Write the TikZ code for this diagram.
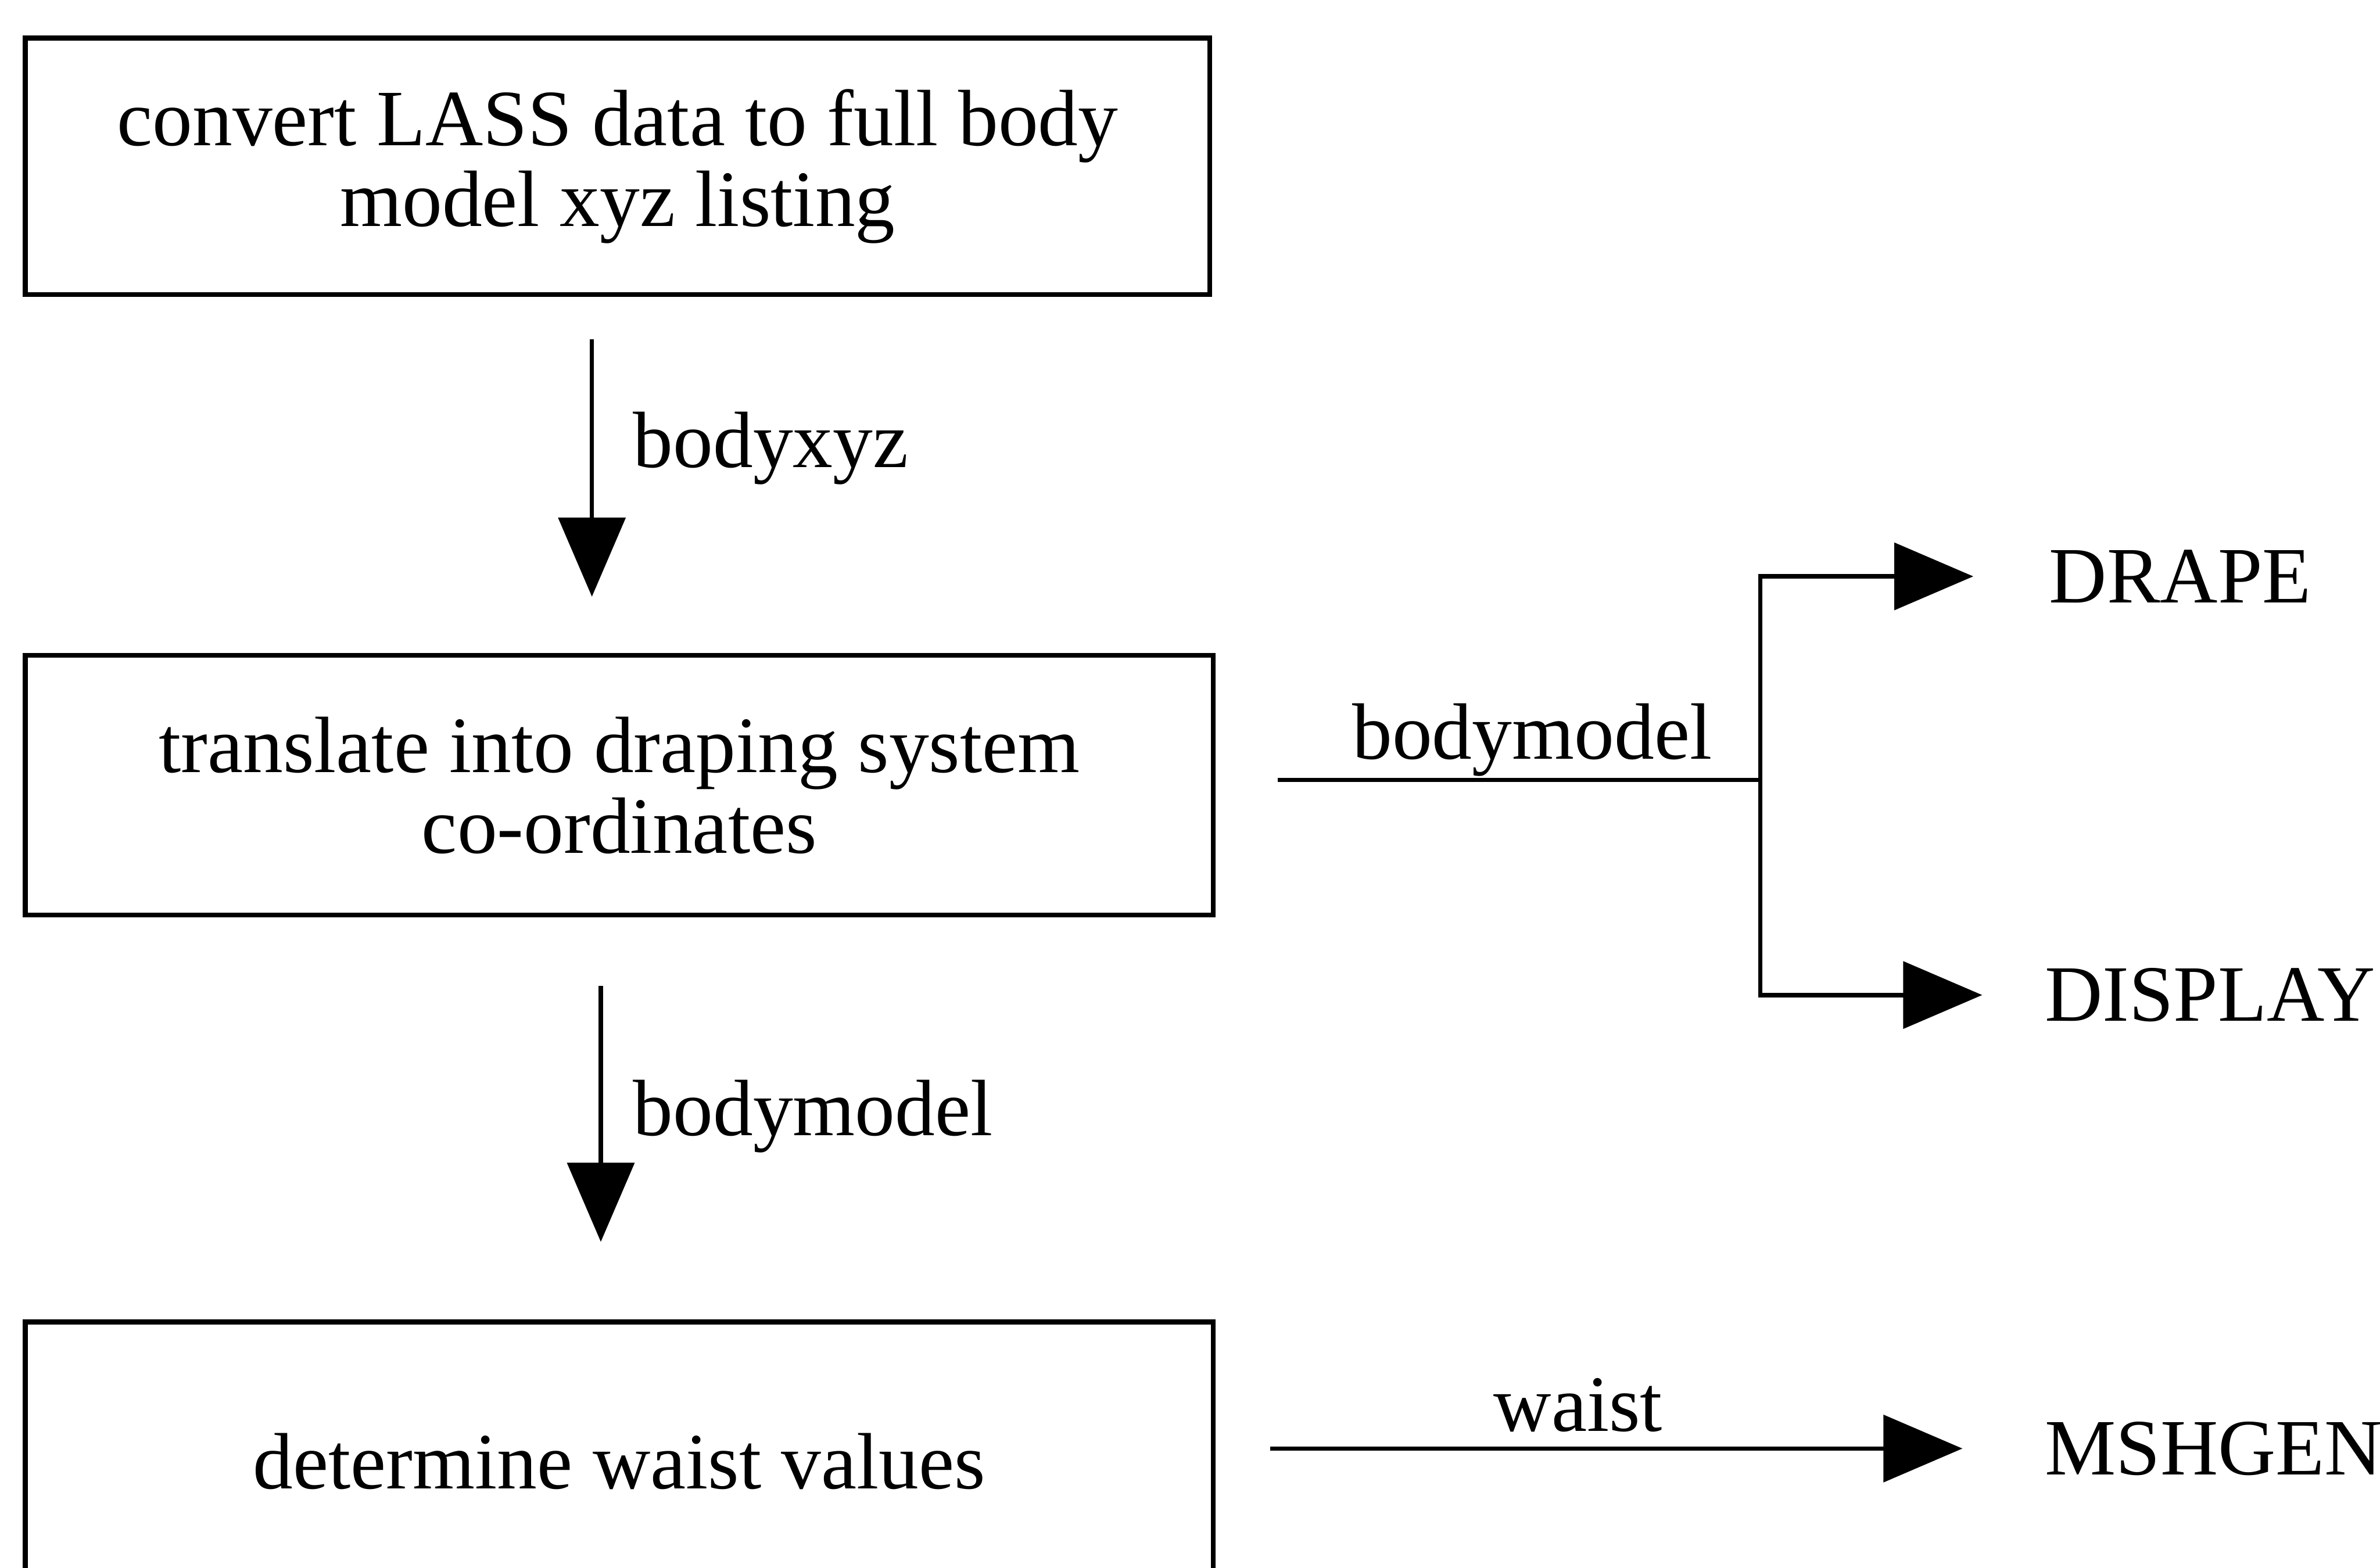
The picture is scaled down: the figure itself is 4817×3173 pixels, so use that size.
\documentclass[tikz,border=0pt]{standalone}
\usepackage{fontspec}
\setmainfont{Liberation Serif}
\usetikzlibrary{arrows.meta}
\begin{document}
\begin{tikzpicture}[x=0.01cm,y=-0.01cm,
  box/.style={draw,line width=2.8pt,align=center,inner sep=0pt,font=\fontsize{46}{46.4}\selectfont},
  lbl/.style={inner sep=0pt,font=\fontsize{46}{46.4}\selectfont},
  conn/.style={line width=2.5pt},
  arr/.style={line width=2.5pt,-{Triangle[length=1.6cm,width=1.35cm]}}]
\useasboundingbox (0,0) rectangle (4817,3173);
\clip (0,0) rectangle (4817,3173);
% boxes
\node[box,minimum width=23.96cm,minimum height=5.19cm] (b1) at (1250,336.5) {convert LASS data to full body\\model xyz listing};
\node[box,minimum width=24.03cm,minimum height=5.25cm] (b2) at (1253.5,1589.5) {translate into draping system\\co-ordinates};
\node[box,minimum width=24.03cm,minimum height=5.64cm] (b3) at (1253.5,2958) {determine waist values};
% outputs
\node[lbl,anchor=base west] (drape) at (4147,1220) {DRAPE};
\node[lbl,anchor=base west] (display) at (4138,2067) {DISPLAY};
\node[lbl,anchor=base west] (mshgen) at (4138,2985) {MSHGEN};
% vertical arrows
\coordinate (c1) at (1198,0);
\coordinate (c2) at (1216,0);
\draw[arr,shorten <=0.86cm,shorten >=1.14cm] (b1.south -| c1) -- (b2.north -| c1);
\node[lbl,anchor=base west] (l1) at (1281,946) {bodyxyz};
\draw[arr,shorten <=1.39cm,shorten >=1.57cm] (b2.south -| c2) -- (b3.north -| c2);
\node[lbl,anchor=base west] (l2) at (1281,2298) {bodymodel};
% branch
\coordinate (j) at (3563,1579);
\draw[conn,shorten <=1.25cm] (b2.east |- j) -- (j);
\node[lbl,anchor=base] (l3) at (3101,1536) {bodymodel};
\draw[arr,shorten >=1.53cm] (j) |- (drape.west);
\draw[arr,shorten >=1.26cm] (j) |- (display.west);
% waist
\draw[arr,shorten <=1.1cm,shorten >=1.66cm] (b3.east |- mshgen.west) -- (mshgen.west);
\node[lbl,anchor=base] (l4) at (3194,2897) {waist};
\end{tikzpicture}
\end{document}
